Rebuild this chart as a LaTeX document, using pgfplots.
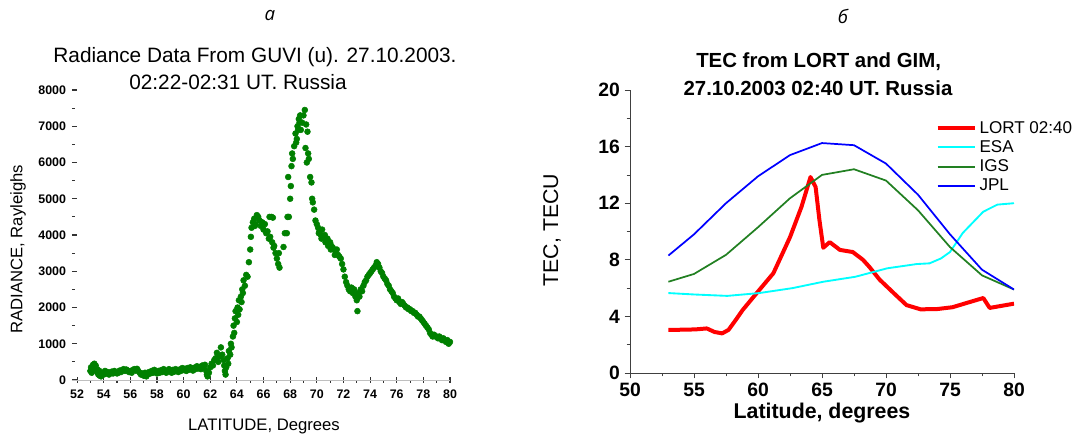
\documentclass[border=0pt]{standalone}
\usepackage{pgfplots}
\pgfplotsset{compat=1.18}
\usepackage{fontspec}
\setmainfont{Liberation Sans}
\newfontfamily\cyrfont{Open Sans}
\definecolor{guvigreen}{RGB}{0,128,0}
\definecolor{igsgreen}{RGB}{34,128,34}
\definecolor{esacyan}{RGB}{0,255,255}
\definecolor{jplblue}{RGB}{0,0,255}
\definecolor{lortred}{RGB}{255,0,0}

\begin{document}
\begin{tikzpicture}
\useasboundingbox (0,0) rectangle (810.75pt,-327pt);

% panel a: GUVI radiance
\begin{axis}[
    name=left, at={(54pt,-285pt)}, anchor=south west,
    scale only axis, width=283.5pt, height=217.5pt,
    xmin=51.62, xmax=80, ymin=0, ymax=8000,
    axis lines=left, axis line style={-},
    x axis line style={draw=black!25},
    y axis line style={draw=none},
    xtick={52,54,...,80}, minor x tick num=1,
    ytick={0,1000,...,8000}, minor ytick={500,1500,...,7500},
    scaled y ticks=false,
    tick align=inside,
    major tick length=4pt, minor tick length=2pt,
    tick style={black!80, line width=0.8pt},
    x tick style={yshift=-2pt},
    /pgf/number format/assume math mode=true,
    /pgf/number format/1000 sep={},
    ticklabel style={font=\fontsize{9.3}{11}\selectfont\bfseries},
    xticklabel style={yshift=-4pt},
    yticklabel style={xshift=-1pt},
    clip=false,
]
\addplot[only marks, mark=*, mark size=2.2pt, color=guvigreen] coordinates {
(53.0,250)(53.05,350)(53.1,200)(53.15,300)(53.2,420)(53.25,380)(53.3,450)(53.35,320)(53.4,400)(53.45,250)
(53.5,300)(53.55,200)(53.6,150)(53.65,260)(53.7,120)(53.75,180)(53.8,100)(53.9,200)(54.0,150)(54.1,250)
(54.2,180)(54.3,220)(54.4,150)(54.5,200)(54.6,230)(54.7,180)(54.8,250)(54.9,210)(55.0,180)(55.1,200)
(55.2,260)(55.3,220)(55.4,280)(55.5,300)(55.6,250)(55.7,290)(55.8,260)(55.9,220)(56.0,250)(56.1,200)
(56.2,280)(56.3,300)(56.4,260)(56.5,310)(56.6,250)(56.7,200)(56.8,150)(56.9,180)(57.0,120)(57.1,200)
(57.2,100)(57.3,150)(57.4,220)(57.5,180)(57.6,250)(57.7,200)(57.8,280)(57.9,230)(58.0,180)(58.1,250)
(58.2,200)(58.3,270)(58.4,220)(58.5,300)(58.6,250)(58.7,200)(58.8,260)(58.9,300)(59.0,240)(59.1,200)
(59.2,280)(59.3,230)(59.4,300)(59.5,270)(59.6,220)(59.7,290)(59.8,250)(59.9,330)(60.0,280)(60.1,310)
(60.2,250)(60.3,330)(60.4,280)(60.5,350)(60.6,300)(60.7,260)(60.8,340)(60.9,300)(61.0,380)(61.1,320)
(61.2,360)(61.3,300)(61.4,400)(61.5,350)(61.6,420)(61.7,250)(61.75,150)(61.8,100)(61.9,200)(62.0,350)
(62.1,450)(62.2,400)(62.3,550)(62.4,600)(62.5,750)(62.6,500)(62.7,650)(62.8,900)(62.9,700)(63.0,550)
(63.05,400)(63.1,250)(63.15,150)(63.2,350)(63.3,600)(63.35,450)(63.4,800)(63.5,700)(63.55,1000)(63.6,900)
(63.7,1200)(63.75,1500)(63.8,1300)(63.85,1700)(63.9,1900)(64.0,1600)(64.05,2000)(64.1,1800)(64.15,2200)(64.2,1950)
(64.3,2300)(64.35,2150)(64.4,2500)(64.45,2400)(64.5,2750)(64.6,2600)(64.7,2900)(64.8,2850)(64.9,3250)(65.0,3600)
(65.05,3950)(65.1,4200)(65.2,4350)(65.3,4450)(65.35,4250)(65.4,4300)(65.5,4550)(65.6,4500)(65.7,4400)(65.8,4250)
(65.9,4350)(66.0,4150)(66.1,4300)(66.2,4050)(66.3,4100)(66.4,3900)(66.45,4500)(66.5,3950)(66.6,4500)(66.65,3800)
(66.7,4480)(66.75,3650)(66.8,3700)(66.9,3500)(67.0,3350)(67.1,3200)(67.15,3500)(67.2,3100)(67.5,3670)(67.6,4050)
(67.75,4050)(67.8,4500)(67.9,4500)(67.85,5600)(68.0,5000)(68.05,5350)(68.1,5900)(68.15,6250)(68.2,6100)(68.3,6450)
(68.4,6800)(68.45,6550)(68.5,6650)(68.55,7000)(68.6,6900)(68.65,7200)(68.7,7100)(68.75,7300)(68.8,6900)(68.9,7100)
(69.0,7300)(69.1,7450)(69.15,6400)(69.2,7050)(69.25,6000)(69.3,6850)(69.35,6250)(69.4,6100)(69.5,5600)(69.6,5450)
(69.65,5000)(69.7,4900)(69.8,4700)(69.9,4400)(70.0,4300)(70.1,4200)(70.15,4050)(70.2,4100)(70.3,4000)(70.35,3900)
(70.4,4150)(70.5,3950)(70.6,4000)(70.65,3800)(70.7,3850)(70.8,3900)(70.85,3700)(70.9,3750)(71.0,3800)(71.05,3600)
(71.1,3700)(71.2,3650)(71.3,3600)(71.35,3450)(71.4,3550)(71.5,3600)(71.6,3450)(71.7,3400)(71.8,3350)(71.9,3200)
(72.0,3050)(72.1,2850)(72.2,2700)(72.3,2600)(72.4,2500)(72.5,2450)(72.6,2550)(72.7,2400)(72.8,2500)(72.9,2300)
(73.0,2200)(73.05,1900)(73.1,2400)(73.2,2300)(73.3,2500)(73.4,2450)(73.5,2600)(73.6,2700)(73.7,2750)(73.8,2850)
(73.9,2900)(74.0,2950)(74.1,3000)(74.2,3050)(74.3,3100)(74.4,3150)(74.5,3250)(74.6,3200)(74.7,3100)(74.8,3000)
(74.9,2950)(75.0,2850)(75.1,2800)(75.2,2750)(75.3,2650)(75.4,2600)(75.5,2500)(75.6,2450)(75.7,2400)(75.8,2300)
(75.9,2250)(76.0,2200)(76.1,2250)(76.2,2150)(76.3,2100)(76.4,2150)(76.5,2100)(76.6,2050)(76.7,2000)(76.8,2000)
(76.9,1950)(77.0,1950)(77.1,1900)(77.2,1900)(77.3,1850)(77.4,1850)(77.5,1800)(77.6,1750)(77.7,1750)(77.8,1700)
(77.9,1650)(78.0,1600)(78.1,1550)(78.2,1500)(78.3,1450)(78.4,1400)(78.5,1300)(78.6,1250)(78.7,1200)(78.8,1250)
(78.9,1200)(79.0,1200)(79.1,1150)(79.2,1200)(79.3,1150)(79.4,1100)(79.5,1150)(79.6,1100)(79.7,1050)(79.8,1100)
(79.9,1000)(80.0,1050)
};
\end{axis}

% panel b: TEC
\begin{axis}[
    name=right, at={(472.5pt,-279.75pt)}, anchor=south west,
    scale only axis, width=288pt, height=212.25pt,
    xmin=50, xmax=80, ymin=0, ymax=20,
    axis lines=left, axis line style={-, draw=black!75, line width=0.6pt},
    xtick={50,55,...,80}, ytick={0,4,...,20},
    minor x tick num=1, minor y tick num=1,
    tick align=outside,
    major tick length=4pt, minor tick length=2.5pt,
    tick style={black!75, line width=0.6pt},
    /pgf/number format/assume math mode=true,
    ticklabel style={font=\fontsize{14.5}{17}\selectfont\bfseries},
    legend style={at={(0.795,0.9)}, anchor=north west, draw=none, fill=none,
        font=\fontsize{12.8}{15}\selectfont, inner sep=0pt, row sep=0pt},
    legend cell align=left,
    legend image code/.code={\draw[#1] (0pt,0pt) -- (28pt,0pt);},
]
\addplot[color=lortred, line width=3pt, line join=round] coordinates {
(53,3.04)(55.1,3.08)(56.0,3.15)(56.6,2.9)(57.2,2.8)(57.7,3.05)(58.3,3.8)(58.8,4.45)(59.9,5.65)(61.2,7.05)
(62.5,9.6)(63.4,11.75)(64.1,13.85)(64.5,13.15)(64.8,10.8)(65.1,8.85)(65.6,9.25)(66.4,8.7)(67.4,8.55)(68.2,8.0)
(68.7,7.5)(69.5,6.6)(70.6,5.65)(71.6,4.8)(72.7,4.5)(74,4.52)(75.2,4.65)(76.3,4.95)(77.6,5.3)(78.1,4.6)(80,4.9)
};
\addlegendentry{LORT 02:40}
\addlegendimage{draw=esacyan, line width=1.5pt}
\addlegendentry{ESA}
\addplot[color=esacyan, line width=1.4pt, forget plot] coordinates {
(53,5.65)(55,5.55)(57.6,5.45)(60.1,5.65)(62.7,6.0)(65.1,6.45)(67.6,6.8)(70.1,7.4)(72.4,7.7)(73.4,7.75)
(74.3,8.1)(75.0,8.55)(76.0,9.9)(77.6,11.4)(78.7,11.9)(80,12.0)
};
\addplot[color=igsgreen, line width=1.3pt] coordinates {
(53,6.45)(55,7.0)(57.5,8.35)(60,10.3)(62.5,12.35)(65,14.0)(67.5,14.4)(70,13.6)(72.5,11.5)(75,8.9)(77.5,6.9)(80,5.9)
};
\addlegendentry{IGS}
\addplot[color=jplblue, line width=1.3pt] coordinates {
(53,8.3)(55,9.8)(57.5,12.0)(60,13.9)(62.5,15.4)(65,16.25)(67.5,16.1)(70,14.8)(72.5,12.6)(75,9.8)(77.5,7.3)(80,5.9)
};
\addlegendentry{JPL}
\end{axis}

% panel letters
\node[font=\cyrfont\itshape\fontsize{14}{16}\selectfont] at (202.5pt,-12pt) {а};
\node[font=\cyrfont\itshape\fontsize{14}{16}\selectfont] at (632.25pt,-12pt) {б};

% titles and axis labels
\node[font=\fontsize{15.6}{18}\selectfont] at (191.25pt,-42.75pt) {Radiance Data From GUVI (u). 27.10.2003.};
\node[font=\fontsize{15.6}{18}\selectfont] at (178.5pt,-61.5pt) {02:22-02:31 UT. Russia};
\node[font=\fontsize{12.5}{14}\selectfont, rotate=90] at (13.5pt,-187pt) {RADIANCE, Rayleighs};
\node[font=\fontsize{12.5}{14}\selectfont] at (198pt,-320pt) {LATITUDE, Degrees};

\node[font=\fontsize{15.3}{18}\selectfont\bfseries] at (614pt,-46.5pt) {TEC from LORT and GIM,};
\node[font=\fontsize{15.3}{18}\selectfont\bfseries] at (613.5pt,-66pt) {27.10.2003 02:40 UT. Russia};
\node[font=\fontsize{16}{18}\selectfont, rotate=90] at (414pt,-172.5pt) {TEC, TECU};
\node[font=\fontsize{16}{18}\selectfont\bfseries] at (616.5pt,-309.75pt) {Latitude, degrees};
\end{tikzpicture}
\end{document}
